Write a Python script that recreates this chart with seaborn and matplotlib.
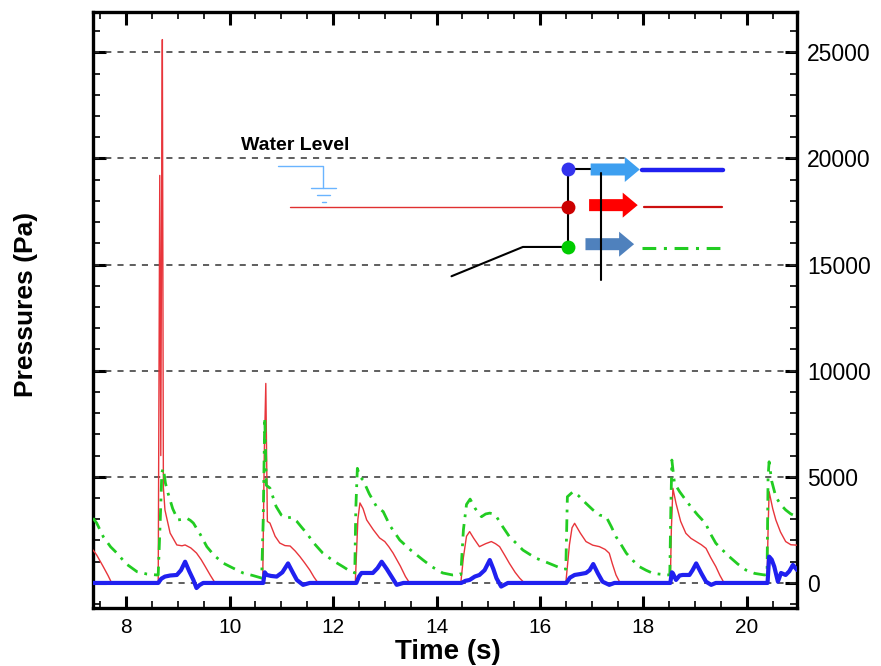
import numpy as np
import pandas as pd
import matplotlib
matplotlib.use("Agg")
import matplotlib.pyplot as plt
from matplotlib.ticker import MultipleLocator
import seaborn as sns

# pressure histories (time in s, pressure in Pa)
red_t = [7.36, 7.43, 7.55, 7.65, 7.72, 8.62, 8.65, 8.67, 8.69, 8.70, 8.72, 8.75, 8.85, 8.98,
         9.08, 9.14, 9.25, 9.36, 9.45, 9.53, 9.63, 9.72, 10.64, 10.67, 10.70, 10.73, 10.78,
         10.88, 10.97, 11.07, 11.17, 11.27, 11.36, 11.45, 11.55, 11.63, 11.71, 12.43, 12.48,
         12.52, 12.58, 12.65, 12.78, 12.90, 13.00, 13.08, 13.16, 13.30, 13.40, 13.48, 14.47,
         14.52, 14.58, 14.64, 14.72, 14.83, 14.95, 15.06, 15.14, 15.22, 15.32, 15.41, 15.52,
         15.61, 15.70, 16.50, 16.57, 16.62, 16.67, 16.78, 16.89, 17.02, 17.15, 17.26, 17.34,
         17.40, 17.47, 17.55, 18.52, 18.54, 18.57, 18.63, 18.72, 18.82, 18.92, 19.02, 19.12,
         19.21, 19.30, 19.40, 19.48, 19.56, 20.39, 20.41, 20.43, 20.50, 20.56, 20.65, 20.75,
         20.85, 20.97]
red_p = [1550, 1318, 800, 350, 0, 0, 19200, 6000, 20200, 25600, 4500, 3440, 2350, 1790,
         1750, 1790, 1650, 1410, 1100, 770, 350, 0, 0, 6000, 9400, 2900, 2820,
         2200, 1880, 1760, 1740, 1500, 1240, 950, 610, 280, 0, 0, 3000,
         3770, 3500, 2970, 2500, 2120, 1950, 1700, 1410, 800, 300, 0, 0,
         1200, 2200, 2420, 2100, 1710, 1850, 1950, 1850, 1710, 1300, 920, 500,
         220, 0, 0, 1800, 2600, 2810, 2350, 1950, 1780, 1710, 1580, 1400,
         900, 376, 0, 0, 2500, 4460, 3750, 2900, 2340, 2100, 1950, 1800,
         1630, 1200, 770, 350, 0, 0, 2500, 4300, 3500, 2970, 2400, 1950,
         1800, 1780]

green_t = [7.36, 7.43, 7.56, 7.70, 7.82, 8.00, 8.21, 8.40, 8.59, 8.62, 8.66, 8.69, 8.72, 8.76,
           8.81, 8.90, 9.00, 9.10, 9.17, 9.24, 9.30, 9.43, 9.56, 9.70, 9.88, 10.05, 10.26,
           10.45, 10.62, 10.65, 10.68, 10.71, 10.78, 10.90, 11.00, 11.10, 11.20, 11.30, 11.40,
           11.49, 11.62, 11.80, 12.00, 12.19, 12.30, 12.42, 12.44, 12.47, 12.52, 12.58, 12.70,
           12.84, 12.97, 13.10, 13.29, 13.50, 13.74, 13.92, 14.12, 14.31, 14.47, 14.52, 14.58,
           14.65, 14.75, 14.87, 14.95, 15.03, 15.10, 15.16, 15.28, 15.41, 15.55, 15.67, 15.80,
           15.93, 16.10, 16.25, 16.40, 16.50, 16.53, 16.64, 16.75, 16.89, 17.02, 17.15, 17.28,
           17.38, 17.47, 17.57, 17.67, 17.80, 17.92, 18.05, 18.18, 18.44, 18.51, 18.53, 18.55,
           18.60, 18.70, 18.82, 18.93, 19.05, 19.20, 19.30, 19.40, 19.53, 19.66, 19.82, 19.98,
           20.15, 20.34, 20.39, 20.41, 20.43, 20.48, 20.56, 20.65, 20.75, 20.85, 20.97]
green_p = [3050, 2825, 2170, 1700, 1410, 900, 530, 420, 376, 380, 3000, 5200, 5400, 4700,
           4230, 3500, 2970, 3000, 3050, 2950, 2820, 2300, 1710, 1300, 930, 720, 470,
           350, 230, 3000, 7800, 4600, 4470, 3600, 3200, 3060, 3100, 2900, 2600,
           2350, 1900, 1410, 1050, 770, 600, 470, 3500, 5400, 5000, 4850, 4200,
           3600, 3360, 2700, 2020, 1550, 1080, 750, 470, 376, 400, 2500, 3700,
           3950, 3500, 3120, 3250, 3290, 3250, 3120, 2650, 2180, 1850, 1550, 1350,
           1160, 1000, 850, 700, 650, 4060, 4300, 4100, 3750, 3450, 3200, 3120,
           2650, 2180, 1800, 1400, 1050, 770, 600, 456, 376, 380, 3500, 5790,
           4700, 4300, 3900, 3550, 3200, 2810, 2300, 1870, 1550, 1240, 900, 610,
           450, 376, 400, 5000, 5710, 4800, 4060, 3700, 3440, 3250, 3120]

blue_t = [7.36, 8.62, 8.68, 8.75, 8.85, 8.98, 9.06, 9.14, 9.22, 9.30, 9.36, 9.42, 9.49,
          10.65, 10.68, 10.72, 10.80, 10.91, 11.02, 11.13, 11.22, 11.30, 11.42, 11.55,
          12.45, 12.50, 12.55, 12.66, 12.77, 12.86, 12.94, 13.04, 13.13, 13.23, 13.36,
          14.48, 14.56, 14.64, 14.74, 14.83, 14.93, 15.03, 15.10, 15.16, 15.25, 15.38,
          16.51, 16.58, 16.67, 16.78, 16.89, 16.96, 17.03, 17.12, 17.21, 17.34, 17.44,
          18.52, 18.55, 18.57, 18.63, 18.70, 18.76, 18.89, 18.95, 19.02, 19.12, 19.21, 19.31, 19.40,
          20.40, 20.43, 20.48, 20.53, 20.60, 20.66, 20.75, 20.82, 20.89, 20.97]
blue_p = [0, 0, 200, 300, 350, 376, 600, 1000, 550, 140, -240, -100, 0,
          0, 500, 376, 330, 300, 500, 920, 500, 140, -90, 0,
          0, 300, 470, 470, 470, 700, 1000, 650, 300, -90, 0,
          0, 100, 140, 300, 376, 600, 1080, 650, 220, -170, 0,
          0, 250, 376, 420, 470, 600, 890, 450, 60, -90, 0,
          0, 500, 456, 140, 350, 376, 376, 600, 920, 450, 60, -90, 0,
          0, 1240, 1100, 770, 60, 470, 376, 550, 850, 610]

x_ticks = [8, 10, 12, 14, 16, 18, 20]
y_ticks = [0, 5000, 10000, 15000, 20000, 25000]


def draw_schematic(ax):
    # little sketch of the gauge positions, placed in data units
    ax.text(10.22, 20620, "Water Level", fontsize=14, fontweight="bold", ha="left", va="center",
            color="black", zorder=6)
    wl = "#6ab4ff"
    ax.plot([10.93, 11.80, 11.80], [19630, 19630, 18630], color=wl, lw=1, zorder=6)
    ax.plot([11.58, 12.05], [18630, 18630], color=wl, lw=1, zorder=6)
    ax.plot([11.69, 11.94], [18300, 18300], color=wl, lw=1, zorder=6)
    ax.plot([11.78, 11.87], [17950, 17950], color=wl, lw=1, zorder=6)

    ax.plot([11.17, 16.54], [17720, 17720], color="#e03030", lw=1, zorder=6)
    ax.plot([16.54, 16.54], [19480, 15830], color="black", lw=1.5, zorder=6)
    ax.plot([16.54, 17.0], [19480, 19480], color="black", lw=1.5, zorder=6)
    ax.plot([16.54, 15.67, 14.29], [15830, 15830, 14450], color="black", lw=1.5, zorder=6)
    ax.plot([17.18, 17.18], [19300, 14270], color="black", lw=1.5, zorder=9)

    for y, c in [(19480, "#3333ee"), (17720, "#cc0000"), (15830, "#00cc00")]:
        ax.plot([16.54], [y], "o", color=c, ms=10, mec="none", zorder=7)

    for x0, x1, y, c in [(16.98, 17.93, 19480, "#3d9ff0"),
                         (16.95, 17.89, 17800, "#ff0000"),
                         (16.88, 17.82, 15960, "#4f81bd")]:
        ax.annotate("", xy=(x1, y), xytext=(x0, y),
                    arrowprops=dict(arrowstyle="simple,head_width=1.0,head_length=0.6,tail_width=0.48",
                                    fc=c, ec="none", shrinkA=0, shrinkB=0, mutation_scale=18),
                    zorder=8)

    ax.plot([17.98, 19.53], [19440, 19440], color="#2020f0", lw=3.2, solid_capstyle="round", zorder=6)
    ax.plot([18.02, 19.51], [17720, 17720], color="#cc1010", lw=1.6, solid_capstyle="round", zorder=6)
    ln, = ax.plot([17.98, 19.51], [15770, 15770], color="#22cc22", lw=2.2, zorder=6)
    ln.set_dashes((4.5, 2.5, 1, 2.5))


def main():
    sns.set_style("ticks")
    plt.rcParams["font.family"] = ["Liberation Sans", "DejaVu Sans"]
    plt.rcParams["text.color"] = "black"
    plt.rcParams["axes.labelcolor"] = "black"
    plt.rcParams["xtick.color"] = "black"
    plt.rcParams["ytick.color"] = "black"

    fig = plt.figure(figsize=(8.81, 6.66), dpi=100)
    ax = fig.add_axes([0.1056, 0.0871, 0.7991, 0.8949])

    red = pd.DataFrame({"t": red_t, "p": red_p})
    green = pd.DataFrame({"t": green_t, "p": green_p})
    blue = pd.DataFrame({"t": blue_t, "p": blue_p})

    for yv in y_ticks:
        ax.axhline(yv, color="#333333", lw=1.1, ls=(0, (4, 4)), zorder=1)

    sns.lineplot(data=red, x="t", y="p", ax=ax, color="#e8353b", lw=1.0,
                 sort=False, estimator=None, zorder=3)
    sns.lineplot(data=green, x="t", y="p", ax=ax, color="#22cc22", lw=2.0,
                 sort=False, estimator=None, zorder=4)
    ax.lines[-1].set_dashes((4.5, 2.5, 1, 2.5))
    sns.lineplot(data=blue, x="t", y="p", ax=ax, color="#2020f0", lw=3.0,
                 sort=False, estimator=None, zorder=5)

    draw_schematic(ax)

    ax.set_xlim(7.36, 20.97)
    ax.set_ylim(-1180, 26900)
    ax.set_xticks(x_ticks)
    ax.set_yticks(y_ticks)
    ax.xaxis.set_minor_locator(MultipleLocator(0.5))
    ax.yaxis.set_minor_locator(MultipleLocator(1000))
    ax.tick_params(which="both", direction="in", top=True, bottom=True, left=True, right=True,
                   labelleft=False, labelright=True, colors="black")
    ax.tick_params(which="major", length=9, width=2.2, labelsize=15, pad=7)
    ax.tick_params(axis="y", which="major", labelsize=16.5)
    ax.tick_params(which="minor", length=5, width=1.2)
    for s in ax.spines.values():
        s.set_linewidth(2.4)
        s.set_color("black")

    ax.set_xlabel("Time (s)", fontsize=20, fontweight="bold", color="black")
    ax.set_ylabel("Pressures (Pa)", fontsize=19, fontweight="bold", color="black")
    ax.xaxis.set_label_coords(0.504, -0.052)
    ax.yaxis.set_label_coords(-0.078, 0.51)

    fig.savefig("out.png", dpi=100)
    plt.close(fig)


if __name__ == "__main__":
    main()
